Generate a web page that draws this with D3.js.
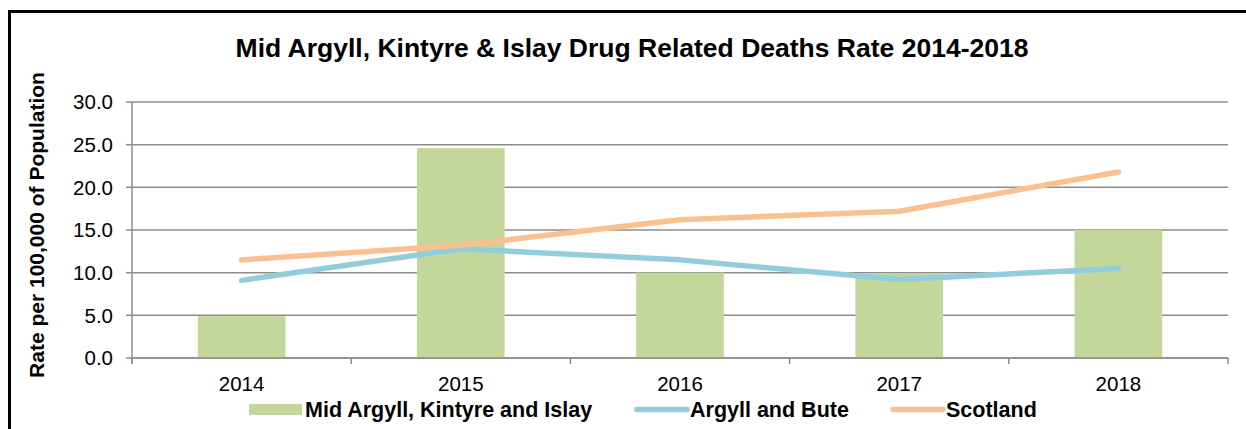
<!DOCTYPE html>
<html>
<head>
<meta charset="utf-8">
<script src="https://cdn.jsdelivr.net/npm/d3@7"></script>
<style>
  body { margin: 0; background: #fff; }
  svg { display: block; font-family: Arial, "Liberation Sans", sans-serif; }
</style>
</head>
<body>
<svg></svg>
<script>
const width = 1246;
const height = 429;

// data
const years = ["2014", "2015", "2016", "2017", "2018"];
const midArgyll = [4.9, 24.6, 10.0, 9.9, 15.0];
const argyllBute = [9.1, 12.8, 11.5, 9.2, 10.5];
const scotland = [11.5, 13.2, 16.2, 17.2, 21.8];
const yTicks = [0, 5, 10, 15, 20, 25, 30];

const seriesNames = ["Mid Argyll, Kintyre and Islay", "Argyll and Bute", "Scotland"];
const colors = ["#c4d79b", "#92cddc", "#fac090"];

const svg = d3.select("svg").attr("width", width).attr("height", height);

// outer frame (runs past right and bottom edges)
svg.append("rect")
    .attr("x", 9.5).attr("y", 11.5)
    .attr("width", 1300).attr("height", 500)
    .attr("fill", "none")
    .attr("stroke", "#000")
    .attr("stroke-width", 3);

const margin = { left: 132, right: 1228, top: 102, bottom: 358 };

const x = d3.scaleBand()
    .domain(years)
    .range([margin.left, margin.right])
    .paddingInner(0.6)
    .paddingOuter(0.3);

const xPoint = d3.scalePoint()
    .domain(years)
    .range([margin.left, margin.right])
    .padding(0.5);

const y = d3.scaleLinear()
    .domain([0, 30])
    .range([margin.bottom, margin.top]);

// gridlines
svg.append("g")
    .selectAll("line")
    .data(yTicks)
    .enter().append("line")
    .attr("x1", margin.left - 6)
    .attr("x2", margin.right)
    .attr("y1", d => y(d))
    .attr("y2", d => y(d))
    .attr("stroke", "#8c8c8c")
    .attr("stroke-width", 1.5);

// y axis line
svg.append("line")
    .attr("x1", margin.left).attr("x2", margin.left)
    .attr("y1", margin.top).attr("y2", margin.bottom + 5)
    .attr("stroke", "#8c8c8c")
    .attr("stroke-width", 1.5);

// y tick labels
svg.append("g")
    .selectAll("text")
    .data(yTicks)
    .enter().append("text")
    .attr("x", margin.left - 19)
    .attr("y", d => y(d))
    .attr("dy", "0.36em")
    .attr("text-anchor", "end")
    .style("font-size", "20.5px")
    .style("fill", "#000")
    .text(d => d.toFixed(1));

// bars
svg.append("g")
    .selectAll("rect")
    .data(midArgyll)
    .enter().append("rect")
    .attr("x", (d, i) => x(years[i]))
    .attr("width", x.bandwidth())
    .attr("y", d => y(d))
    .attr("height", d => y(0) - y(d))
    .attr("fill", colors[0]);

// x axis with tick marks at category boundaries
const step = (margin.right - margin.left) / years.length;
svg.append("line")
    .attr("x1", margin.left).attr("x2", margin.right)
    .attr("y1", margin.bottom).attr("y2", margin.bottom)
    .attr("stroke", "#8c8c8c")
    .attr("stroke-width", 1.5);
svg.append("g")
    .selectAll("line")
    .data(d3.range(years.length + 1))
    .enter().append("line")
    .attr("x1", i => margin.left + i * step)
    .attr("x2", i => margin.left + i * step)
    .attr("y1", margin.bottom)
    .attr("y2", margin.bottom + 6)
    .attr("stroke", "#8c8c8c")
    .attr("stroke-width", 1.5);

svg.append("g")
    .selectAll("text")
    .data(years)
    .enter().append("text")
    .attr("x", d => xPoint(d))
    .attr("y", 391)
    .attr("text-anchor", "middle")
    .style("font-size", "20.5px")
    .style("fill", "#000")
    .text(d => d);

// lines
const line = d3.line()
    .x((d, i) => xPoint(years[i]))
    .y(d => y(d));

[argyllBute, scotland].forEach((vals, k) => {
    svg.append("path")
        .datum(vals)
        .attr("d", line)
        .attr("fill", "none")
        .attr("stroke", colors[k + 1])
        .attr("stroke-width", 5.5)
        .attr("stroke-linecap", "round")
        .attr("stroke-linejoin", "round");
});

// title
svg.append("text")
    .attr("x", 632)
    .attr("y", 57)
    .attr("text-anchor", "middle")
    .style("font-size", "26.5px")
    .style("font-weight", "bold")
    .text("Mid Argyll, Kintyre & Islay Drug Related Deaths Rate 2014-2018");

// y axis title
svg.append("text")
    .attr("transform", "translate(44, 225) rotate(-90)")
    .attr("text-anchor", "middle")
    .style("font-size", "21px")
    .style("font-weight", "bold")
    .text("Rate per 100,000 of Population");

// legend
const legendX = [249, 634, 890];
const legend = svg.append("g");
seriesNames.forEach((name, i) => {
    if (i === 0) {
        legend.append("rect")
            .attr("x", legendX[i]).attr("y", 404)
            .attr("width", 53).attr("height", 11)
            .attr("fill", colors[i]);
    } else {
        legend.append("line")
            .attr("x1", legendX[i] + 3).attr("x2", legendX[i] + 53)
            .attr("y1", 409.5).attr("y2", 409.5)
            .attr("stroke", colors[i])
            .attr("stroke-width", 5.5)
            .attr("stroke-linecap", "round");
    }
    legend.append("text")
        .attr("x", legendX[i] + 56)
        .attr("y", 409.5)
        .attr("dy", "0.36em")
        .style("font-size", "21.5px")
        .style("font-weight", "bold")
        .text(name);
});
</script>
</body>
</html>
